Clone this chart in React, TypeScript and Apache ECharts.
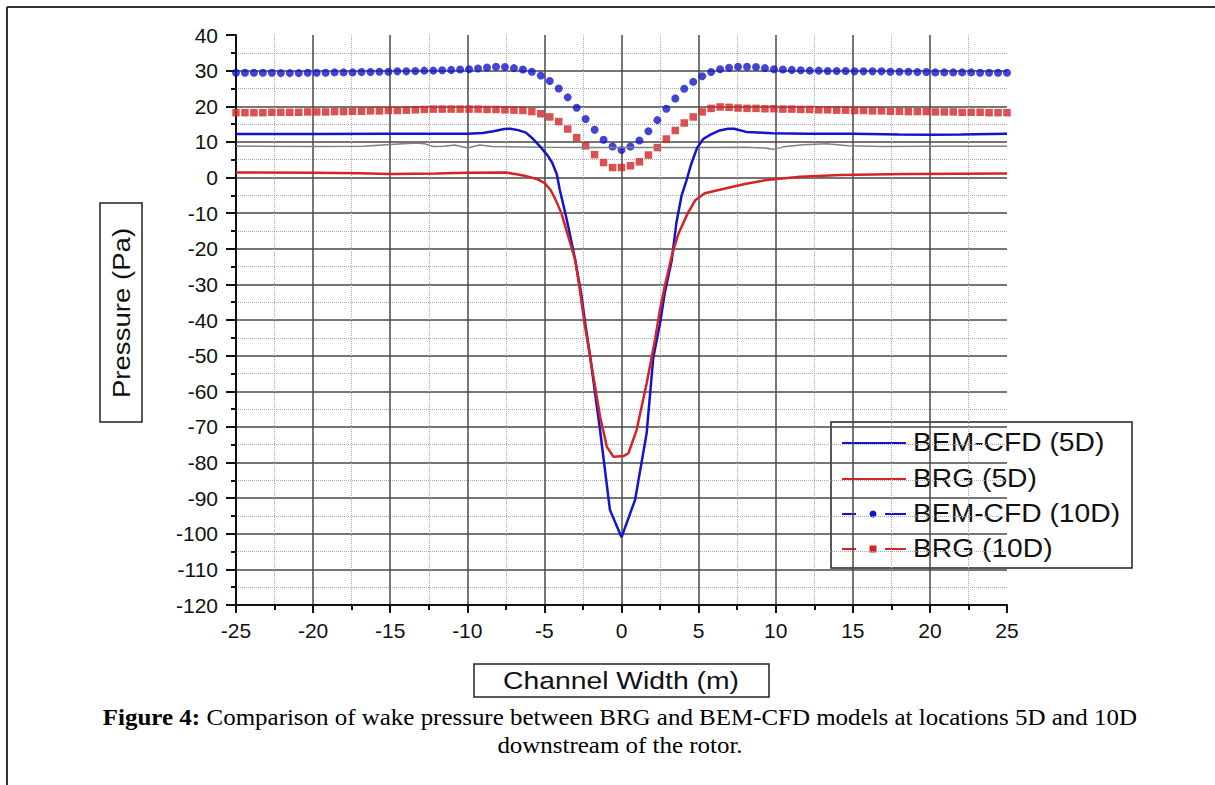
import React, { useEffect, useRef } from "react";
import * as echarts from "echarts";

// x positions of the dotted (10D) samples: 87 evenly spaced samples across the channel
const DOT_COUNT = 87;
const dotX: number[] = Array.from({ length: DOT_COUNT }, (_, i) => -25 + (i * 50) / (DOT_COUNT - 1));

const bemCfd10D: number[] = [
  29.4, 29.4, 29.4, 29.4, 29.4, 29.3, 29.3, 29.3, 29.4, 29.4,
  29.4, 29.5, 29.5, 29.5, 29.6, 29.6, 29.7, 29.7, 29.8, 29.8,
  29.9, 30.0, 30.0, 30.1, 30.2, 30.3, 30.4, 30.6, 30.9, 31.1,
  31.0, 30.7, 30.3, 29.7, 28.6, 27.1, 25.0, 22.5, 19.6, 16.4,
  13.4, 10.6, 8.7, 7.7, 8.7, 10.4, 13.0, 16.1, 19.3, 22.2,
  24.9, 26.9, 28.4, 29.6, 30.4, 30.8, 31.1, 31.1, 31.0, 30.7,
  30.4, 30.3, 30.2, 30.1, 30.0, 30.0, 29.9, 29.9, 29.9, 29.8,
  29.8, 29.8, 29.8, 29.7, 29.7, 29.7, 29.6, 29.6, 29.5, 29.5,
  29.5, 29.5, 29.5, 29.4, 29.4, 29.4, 29.4,
];

const brg10D: number[] = [
  18.2, 18.2, 18.2, 18.2, 18.3, 18.3, 18.3, 18.3, 18.4, 18.4,
  18.4, 18.5, 18.5, 18.6, 18.6, 18.7, 18.7, 18.8, 18.8, 18.9,
  19.0, 19.1, 19.2, 19.2, 19.2, 19.2, 19.2, 19.2, 19.1, 19.1,
  19.0, 18.9, 18.8, 18.5, 17.9, 17.0, 15.7, 13.6, 11.2, 8.9,
  6.4, 4.2, 2.8, 2.8, 3.3, 4.4, 6.3, 8.4, 10.8, 13.2,
  15.3, 17.0, 18.4, 19.4, 19.8, 19.7, 19.5, 19.4, 19.4, 19.3,
  19.3, 19.2, 19.2, 19.1, 19.1, 19.0, 19.0, 18.9, 18.9, 18.8,
  18.8, 18.7, 18.7, 18.6, 18.6, 18.5, 18.5, 18.5, 18.4, 18.4,
  18.4, 18.3, 18.3, 18.3, 18.2, 18.2, 18.2,
];

const bemCfd5D: [number, number][] = [
  [-25, 12.2], [-20, 12.2], [-15, 12.3], [-12, 12.3], [-10, 12.3], [-9, 12.5],
  [-8.3, 13.0], [-7.6, 13.6], [-7.2, 13.7], [-6.7, 13.3], [-6.2, 12.6], [-5.8, 11.1],
  [-5.2, 8.3], [-4.8, 6.2], [-4.5, 4.2], [-4.2, 1.0], [-4.0, -3.5], [-3.7, -9],
  [-3.45, -13.8], [-3.0, -23.2], [-2.6, -33], [-2.35, -41], [-2.04, -50], [-1.4, -70.6],
  [-0.75, -93.3], [0, -101], [0.88, -90.5], [1.63, -71.8], [2.06, -50.6], [2.5, -40.9],
  [2.8, -32.5], [3.26, -23.2], [3.55, -13], [3.9, -5], [4.2, -1], [4.5, 3.5],
  [4.9, 8.3], [5.3, 10.8], [5.8, 12.1], [6.3, 13.1], [6.9, 13.7], [7.3, 13.7],
  [8.1, 12.8], [9.8, 12.4], [12, 12.3], [15, 12.3], [18, 12.1], [20, 12.0],
  [22, 12.1], [25, 12.3],
];

const brg5D: [number, number][] = [
  [-25, 1.4], [-20, 1.3], [-17, 1.2], [-15, 1.0], [-12, 1.1], [-10, 1.3],
  [-7.5, 1.4], [-6.8, 0.9], [-6.3, 0.5], [-5.5, -0.4], [-5.0, -1.5], [-4.6, -3.5],
  [-4.3, -6], [-3.9, -10], [-3.45, -16.6], [-3.0, -23.2], [-2.7, -31.6], [-2.4, -40.9],
  [-1.93, -53.1], [-1.39, -67.1], [-0.95, -75.6], [-0.52, -78.4], [0.13, -78.2], [0.45, -77.4],
  [0.98, -70.9], [1.63, -57.8], [2.17, -45.6], [2.5, -37], [2.8, -30.6], [3.3, -21.3],
  [3.7, -15.7], [4.3, -10], [4.8, -6.3], [5.4, -4.4], [6.3, -3.5], [8.0, -1.8],
  [9.4, -0.7], [11.6, 0.2], [14.2, 0.7], [18.5, 1.0], [25, 1.1],
];

const grayLine: [number, number][] = [
  [-25, 8.8], [-20, 8.7], [-16.7, 8.8], [-15, 9.25], [-13.3, 9.7], [-12.8, 9.5],
  [-12.2, 8.7], [-11.5, 8.8], [-10.8, 9.1], [-10.0, 8.3], [-9.2, 9.1], [-8.4, 8.7],
  [-5, 8.5], [-2, 8.4], [0, 8.4], [2, 8.4], [5, 8.4], [8, 8.5],
  [9.3, 8.3], [9.85, 7.9], [10.5, 8.6], [11.8, 9.2], [13.3, 9.5], [14.7, 8.9],
  [16.9, 8.7], [20, 8.8], [25, 8.8],
];

const legendNames = ["BEM-CFD (5D)", "BRG (5D)", "BEM-CFD (10D)", "BRG (10D)"];
const captionLine1Bold = "Figure 4:";
const captionLine1 = " Comparison of wake pressure between BRG and BEM-CFD models at locations 5D and 10D";
const captionLine2 = "downstream of the rotor.";
const xAxisTitle = "Channel Width (m)";
const yAxisTitle = "Pressure (Pa)";

const BLUE = "#1414cc";
const RED = "#d42424";
const SANS = "'Liberation Sans', Arial, sans-serif";
const SERIF = "'Liberation Serif', 'Times New Roman', serif";

export default function App() {
  const ref = useRef<HTMLDivElement>(null);

  useEffect(() => {
    if (!ref.current) return;
    const chart = echarts.init(ref.current, undefined, { renderer: "svg" });

    const legendRowsY = [443, 479, 514, 549];
    const legendItems: any[] = [
      {
        type: "rect",
        shape: { x: 831, y: 422, width: 301, height: 146 },
        style: { fill: "#fff", stroke: "#222", lineWidth: 1.5 },
      },
    ];
    legendNames.forEach((name, i) => {
      const y = legendRowsY[i];
      const color = i % 2 === 0 ? BLUE : RED;
      if (i < 2) {
        legendItems.push({
          type: "line",
          shape: { x1: 842, y1: y, x2: 906, y2: y },
          style: { stroke: color, lineWidth: 2 },
        });
      } else {
        legendItems.push({
          type: "line",
          shape: { x1: 842, y1: y, x2: 856, y2: y },
          style: { stroke: color, lineWidth: 2 },
        });
        legendItems.push({
          type: "line",
          shape: { x1: 885, y1: y, x2: 906, y2: y },
          style: { stroke: color, lineWidth: 2 },
        });
        if (i === 2) {
          legendItems.push({ type: "circle", shape: { cx: 873, cy: y, r: 3.5 }, style: { fill: color } });
        } else {
          legendItems.push({ type: "rect", shape: { x: 869.5, y: y - 3.5, width: 7, height: 7 }, style: { fill: color } });
        }
      }
      legendItems.push({
        type: "text",
        x: 913,
        y: y,
        scaleX: 1.13,
        style: { text: name, font: `25px ${SANS}`, fill: "#111", verticalAlign: "middle", align: "left" },
      });
    });

    chart.setOption({
      animation: false,
      backgroundColor: "#fff",
      grid: { left: 236, right: 208, top: 35, bottom: 180, containLabel: false },
      xAxis: {
        type: "value",
        min: -25,
        max: 25,
        interval: 5,
        axisLine: { show: true, onZero: false, lineStyle: { color: "#111", width: 2 } },
        axisTick: { show: true, length: 8, lineStyle: { color: "#111", width: 2 } },
        minorTick: { show: true, splitNumber: 2, length: 5, lineStyle: { color: "#111", width: 2 } },
        axisLabel: { fontSize: 21, color: "#111", fontFamily: SANS, margin: 15 },
        splitLine: { show: true, showMinLine: false, showMaxLine: false, lineStyle: { color: "#484848", width: 1.5 } },
        minorSplitLine: { show: true, lineStyle: { color: "#aaaaaa", width: 1, type: "dotted" } },
      },
      yAxis: {
        type: "value",
        min: -120,
        max: 40,
        interval: 10,
        axisLine: { show: true, onZero: false, lineStyle: { color: "#111", width: 2 } },
        axisTick: { show: true, length: 10, lineStyle: { color: "#111", width: 2 } },
        minorTick: { show: true, splitNumber: 2, length: 5, lineStyle: { color: "#111", width: 2 } },
        axisLabel: { fontSize: 21, color: "#111", fontFamily: SANS, margin: 18 },
        splitLine: { show: true, showMinLine: false, showMaxLine: false, lineStyle: { color: "#484848", width: 1.5 } },
        minorSplitLine: { show: true, lineStyle: { color: "#aaaaaa", width: 1, type: "dotted" } },
      },
      series: [
        {
          type: "line",
          name: "gray",
          data: grayLine,
          showSymbol: false,
          lineStyle: { color: "#808080", width: 1.5 },
          silent: true,
        },
        {
          type: "line",
          name: legendNames[0],
          data: bemCfd5D,
          showSymbol: false,
          lineStyle: { color: BLUE, width: 2.5 },
        },
        {
          type: "line",
          name: legendNames[1],
          data: brg5D,
          showSymbol: false,
          lineStyle: { color: RED, width: 2.5 },
        },
        {
          type: "scatter",
          name: legendNames[2],
          data: dotX.map((x, i) => [x, bemCfd10D[i]]),
          symbol: "circle",
          symbolSize: 8,
          itemStyle: { color: BLUE },
        },
        {
          type: "scatter",
          name: legendNames[3],
          data: dotX.map((x, i) => [x, brg10D[i]]),
          symbol: "rect",
          symbolSize: 7.5,
          itemStyle: { color: RED },
        },
      ],
      graphic: [
        // figure frame (top and left edges)
        { type: "line", shape: { x1: 7, y1: 7, x2: 1215, y2: 7 }, style: { stroke: "#333", lineWidth: 2 }, z: 100 },
        { type: "line", shape: { x1: 7, y1: 7, x2: 7, y2: 785 }, style: { stroke: "#333", lineWidth: 2 }, z: 100 },
        // y axis title box
        {
          type: "rect",
          shape: { x: 100, y: 203, width: 42, height: 219 },
          style: { fill: "#fff", stroke: "#222", lineWidth: 1.5 },
          z: 100,
        },
        {
          type: "text",
          x: 122,
          y: 313,
          rotation: Math.PI / 2,
          scaleX: 1.15,
          style: { text: yAxisTitle, font: `24px ${SANS}`, fill: "#111", align: "center", verticalAlign: "middle" },
          z: 101,
        },
        // x axis title box
        {
          type: "rect",
          shape: { x: 474, y: 664, width: 295, height: 33 },
          style: { fill: "#fff", stroke: "#222", lineWidth: 1.5 },
          z: 100,
        },
        {
          type: "text",
          x: 621,
          y: 681,
          scaleX: 1.18,
          style: { text: xAxisTitle, font: `24px ${SANS}`, fill: "#111", align: "center", verticalAlign: "middle" },
          z: 101,
        },
        // caption
        {
          type: "text",
          x: 620,
          y: 717,
          scaleX: 1.04,
          style: {
            text: `{b|${captionLine1Bold}}{r|${captionLine1}}`,
            align: "center",
            verticalAlign: "middle",
            rich: {
              b: { font: `bold 24px ${SERIF}`, fill: "#000" },
              r: { font: `24px ${SERIF}`, fill: "#000" },
            },
          },
          z: 101,
        },
        {
          type: "text",
          x: 620,
          y: 745,
          scaleX: 1.04,
          style: { text: captionLine2, font: `24px ${SERIF}`, fill: "#000", align: "center", verticalAlign: "middle" },
          z: 101,
        },
        // legend
        { type: "group", z: 100, children: legendItems },
      ],
    });

    return () => chart.dispose();
  }, []);

  return (
    <div
      ref={ref}
      style={{ position: "fixed", left: 0, top: 0, width: 1215, height: 785, background: "#fff" }}
    />
  );
}
